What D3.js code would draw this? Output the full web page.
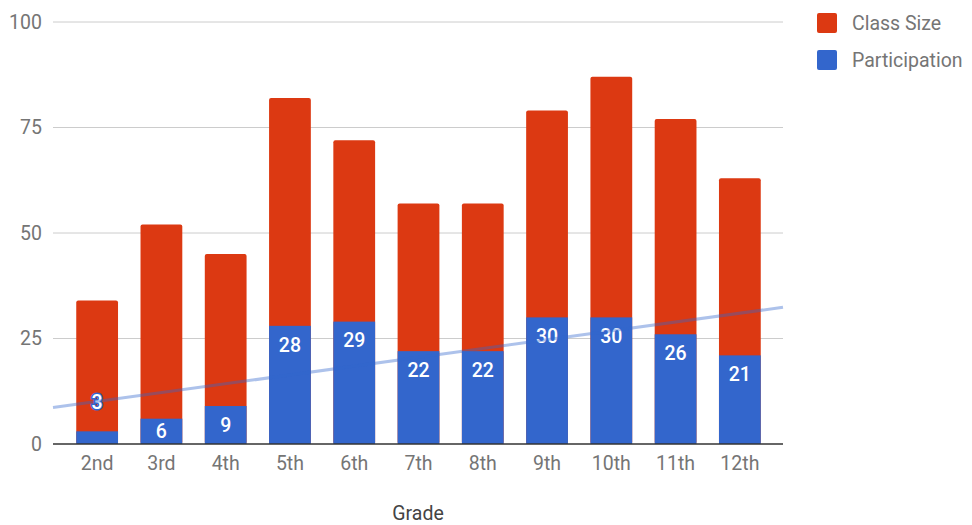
<!DOCTYPE html>
<html>
<head>
<meta charset="utf-8">
<script src="https://cdn.jsdelivr.net/npm/d3@7/dist/d3.min.js"></script>
<style>
  body { margin: 0; background: #fff; }
  text { font-family: Roboto, "Noto Sans", sans-serif; }
</style>
</head>
<body>
<div id="chart"></div>
<script>
"use strict";

var grades = ["2nd", "3rd", "4th", "5th", "6th", "7th", "8th", "9th", "10th", "11th", "12th"];
var classSize = [34, 52, 45, 82, 72, 57, 57, 79, 87, 77, 63];
var participation = [3, 6, 9, 28, 29, 22, 22, 30, 30, 26, 21];
var yTicks = [0, 25, 50, 75, 100];
var seriesNames = ["Class Size", "Participation"];
var seriesColors = ["#dc3912", "#3366cc"];

var larg = 972, haut = 525;
var gridLeft = 53, gridRight = 783;
var fs = "19.5px";

var svg = d3.select("#chart").append("svg")
  .attr("width", larg)
  .attr("height", haut);

var x = d3.scaleBand().domain(grades).range([65, 772]).paddingInner(0.35).paddingOuter(0.175);
var y = d3.scaleLinear().domain([0, 100]).range([444, 22]);

// lignes de grille
svg.append("g").selectAll("line")
  .data(yTicks.filter(function(d){ return d > 0; }))
  .enter().append("line")
  .attr("x1", gridLeft).attr("x2", gridRight)
  .attr("y1", function(d){ return y(d); })
  .attr("y2", function(d){ return y(d); })
  .attr("stroke", "#cccccc").attr("stroke-width", 1);

// axe y
var yAxis = svg.append("g")
  .attr("transform", "translate(" + gridLeft + ",0)")
  .call(d3.axisLeft(y).tickValues(yTicks).tickSize(0).tickPadding(11));
yAxis.select(".domain").remove();
yAxis.selectAll("text").attr("font-size", fs).attr("fill", "#757575")
  .attr("font-family", "Roboto, sans-serif");

// barres
var groups = svg.append("g").selectAll("g")
  .data(grades).enter().append("g");

groups.append("rect")
  .attr("x", function(d){ return x(d); })
  .attr("width", x.bandwidth())
  .attr("y", function(d, i){ return y(classSize[i]); })
  .attr("height", function(d, i){ return y(0) - y(classSize[i]); })
  .attr("rx", 2)
  .attr("fill", seriesColors[0]);

groups.append("rect")
  .attr("x", function(d){ return x(d); })
  .attr("width", x.bandwidth())
  .attr("y", function(d, i){ return y(participation[i]); })
  .attr("height", function(d, i){ return y(0) - y(participation[i]); })
  .attr("fill", seriesColors[1]);

// ligne de tendance (régression linéaire)
var n = participation.length;
var mx = d3.mean(d3.range(n));
var my = d3.mean(participation);
var sxy = d3.sum(participation, function(v, i){ return (i - mx) * (v - my); });
var sxx = d3.sum(d3.range(n), function(i){ return (i - mx) * (i - mx); });
var pente = sxy / sxx;
var step = x.step();
var c0 = x(grades[0]) + x.bandwidth() / 2;
function trendAt(px) {
  var idx = (px - c0) / step;
  return my + pente * (idx - mx);
}
svg.append("line")
  .attr("x1", gridLeft).attr("x2", gridRight)
  .attr("y1", y(trendAt(gridLeft)))
  .attr("y2", y(trendAt(gridRight)))
  .attr("stroke", seriesColors[1])
  .attr("stroke-opacity", 0.4)
  .attr("stroke-width", 3);

// axe de base
svg.append("line")
  .attr("x1", gridLeft).attr("x2", gridRight)
  .attr("y1", y(0)).attr("y2", y(0))
  .attr("stroke", "#333333").attr("stroke-width", 1.5);

// étiquettes de données
groups.append("text")
  .text(function(d, i){ return participation[i]; })
  .attr("x", function(d){ return x(d) + x.bandwidth() / 2; })
  .attr("y", function(d, i){
    var top = y(participation[i]);
    if (participation[i] < 5) return top - 29;
    return Math.min(top + 19, (top + y(0)) / 2);
  })
  .attr("dy", "0.35em")
  .attr("text-anchor", "middle")
  .attr("font-size", fs)
  .attr("font-weight", 500)
  .attr("fill", "#ffffff")
  .attr("stroke", function(d, i){ return participation[i] < 5 ? seriesColors[1] : "none"; })
  .attr("stroke-width", 3)
  .attr("paint-order", "stroke");

// axe x
var xAxis = svg.append("g")
  .attr("transform", "translate(0," + y(0) + ")")
  .call(d3.axisBottom(x).tickSize(0).tickPadding(12));
xAxis.select(".domain").remove();
xAxis.selectAll("text").attr("font-size", fs).attr("fill", "#757575")
  .attr("font-family", "Roboto, sans-serif");

svg.append("text")
  .attr("x", 418).attr("y", 513)
  .attr("dy", "0.35em")
  .attr("text-anchor", "middle")
  .attr("font-size", fs)
  .attr("fill", "#444444")
  .text("Grade");

// légende
var legend = svg.append("g").selectAll("g")
  .data(seriesNames).enter().append("g")
  .attr("transform", function(d, i){ return "translate(817," + (13 + i * 37) + ")"; });
legend.append("rect")
  .attr("width", 20).attr("height", 20).attr("rx", 2)
  .attr("fill", function(d, i){ return seriesColors[i]; });
legend.append("text")
  .attr("x", 35).attr("y", 10).attr("dy", "0.35em")
  .attr("font-size", fs).attr("fill", "#757575")
  .text(function(d){ return d; });
</script>
</body>
</html>
